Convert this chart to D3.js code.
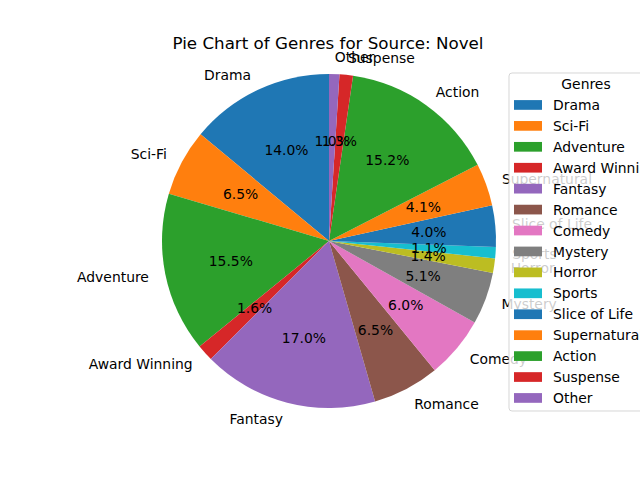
<!DOCTYPE html>
<html>
<head>
<meta charset="utf-8">
<script src="https://cdn.jsdelivr.net/npm/d3@7"></script>
<style>
  body { margin: 0; background: #fff; }
  text { font-family: "DejaVu Sans", sans-serif; }
</style>
</head>
<body>
<svg id="chart" width="640" height="480"></svg>
<script>
// genre shares (%)
const genres = ['Drama', 'Sci-Fi', 'Adventure', 'Award Winning', 'Fantasy', 'Romance', 'Comedy',
  'Mystery', 'Horror', 'Sports', 'Slice of Life', 'Supernatural', 'Action', 'Suspense', 'Other']
const shares = [13.96, 6.46, 15.46, 1.6, 16.96, 6.46, 5.96, 5.06, 1.4, 1.1, 4.0, 4.1, 15.16, 1.3, 1.0]
const palette = ['#1f77b4', '#ff7f0e', '#2ca02c', '#d62728', '#9467bd', '#8c564b', '#e377c2',
  '#7f7f7f', '#bcbd22', '#17becf']

const data = genres.map((g, i) => ({ genre: g, value: shares[i] }))
const total = d3.sum(shares)

const svg = d3.select('#chart')
const cx = 329
const cy = 241
const r = 167

svg.append('text')
  .attr('x', 328)
  .attr('y', 49)
  .attr('text-anchor', 'middle')
  .style('font-size', '16.7px')
  .text('Pie Chart of Genres for Source: Novel')

const color = d3.scaleOrdinal().domain(genres).range(palette)

// counterclockwise from 12 o'clock, like matplotlib startangle=90
const pie = d3.pie().sort(null).value(d => d.value)
  .startAngle(0).endAngle(-2 * Math.PI)
const arcs = pie(data)

const g = svg.append('g').attr('transform', `translate(${cx},${cy})`)

const arc = d3.arc().innerRadius(0).outerRadius(r)
const pctArc = d3.arc().innerRadius(r * 0.6).outerRadius(r * 0.6)
const labelArc = d3.arc().innerRadius(r * 1.1).outerRadius(r * 1.1)

g.selectAll('.slice')
  .data(arcs)
  .enter()
  .append('path')
  .attr('class', 'slice')
  .attr('d', arc)
  .attr('fill', d => color(d.data.genre))

g.selectAll('.label')
  .data(arcs)
  .enter()
  .append('text')
  .attr('class', 'label')
  .attr('x', d => labelArc.centroid(d)[0])
  .attr('y', d => labelArc.centroid(d)[1])
  .attr('text-anchor', d => labelArc.centroid(d)[0] > 0 ? 'start' : 'end')
  .attr('dominant-baseline', 'central')
  .style('font-size', '13.9px')
  .text(d => d.data.genre)

g.selectAll('.pct')
  .data(arcs)
  .enter()
  .append('text')
  .attr('class', 'pct')
  .attr('x', d => pctArc.centroid(d)[0])
  .attr('y', d => pctArc.centroid(d)[1])
  .attr('text-anchor', 'middle')
  .attr('dominant-baseline', 'central')
  .style('font-size', '13.9px')
  .text(d => d3.format('.1f')(d.data.value / total * 100) + '%')

// legend, drawn over the labels with some transparency
const legend = svg.append('g').attr('transform', 'translate(509,73)')
legend.append('rect')
  .attr('width', 154)
  .attr('height', 338)
  .attr('rx', 3)
  .attr('fill', 'white')
  .attr('fill-opacity', 0.8)
  .attr('stroke', '#cccccc')
  .attr('stroke-opacity', 0.8)

legend.append('text')
  .attr('x', 77)
  .attr('y', 11)
  .attr('text-anchor', 'middle')
  .attr('dominant-baseline', 'central')
  .style('font-size', '13.9px')
  .text('Genres')

const rowY = d3.scaleLinear().domain([0, genres.length - 1]).range([32, 325])

const items = legend.selectAll('.item')
  .data(genres)
  .enter()
  .append('g')
  .attr('class', 'item')
  .attr('transform', (d, i) => `translate(0,${rowY(i)})`)

items.append('rect')
  .attr('x', 5)
  .attr('y', -4.9)
  .attr('width', 28)
  .attr('height', 9.7)
  .attr('fill', d => color(d))

items.append('text')
  .attr('x', 44)
  .attr('y', 0)
  .attr('dominant-baseline', 'central')
  .style('font-size', '13.9px')
  .text(d => d)
</script>
</body>
</html>
